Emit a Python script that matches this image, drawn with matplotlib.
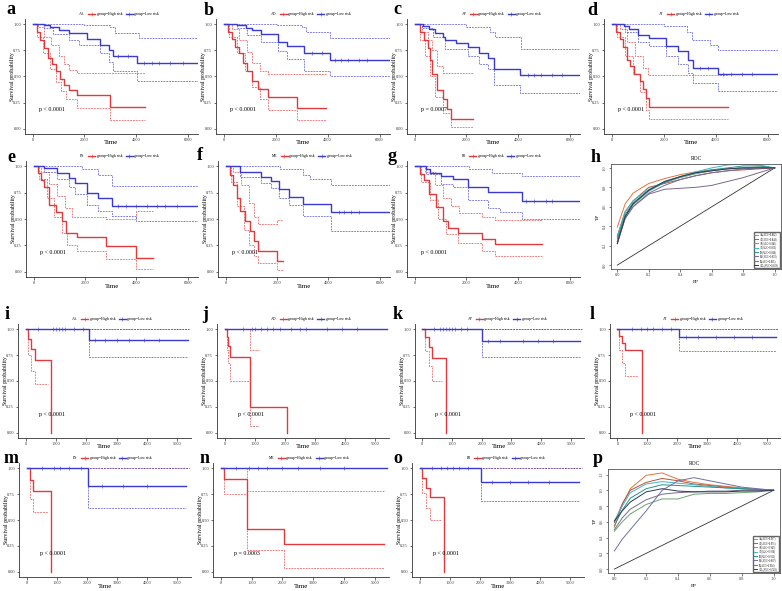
import numpy as np
import matplotlib
matplotlib.use("Agg")
import matplotlib.pyplot as plt
from matplotlib.lines import Line2D

plt.rcParams["font.family"] = ["Liberation Serif", "DejaVu Serif"]

W, H = 782, 591
RED = "#e03a3c"
BLUE = "#3a3ad0"

# ── Kaplan-Meier curves: (time, survival) break points ──
# rows 1-2 (training cohort)
A_HI = [(0, 1), (150, .93), (300, .85), (450, .77), (600, .68), (750, .62), (900, .55),
        (1050, .48), (1200, .42), (1400, .37), (1700, .32), (3000, .21), (4350, .21)]
A_HI_UP = [(0, 1), (200, .97), (450, .88), (700, .80), (1000, .70), (1200, .62),
           (1400, .56), (1700, .53), (4350, .53)]
A_HI_LO = [(0, 1), (150, .88), (400, .72), (650, .57), (900, .45), (1100, .36),
           (1300, .28), (1700, .20), (3000, .08), (4350, .08)]
A_LO = [(0, 1), (450, .99), (650, .97), (1000, .94), (1400, .92), (2100, .86), (2600, .80),
        (2950, .75), (3100, .70), (4050, .63), (6400, .63)]
A_LO_UP = [(0, 1), (2000, .99), (3000, .97), (3200, .92), (4100, .87), (6400, .87)]
A_LO_LO = [(0, 1), (450, .96), (800, .91), (1400, .85), (1800, .80), (2600, .72),
           (2950, .64), (3100, .55), (4050, .46), (6400, .46)]
A_CENS = [3300, 3700, 4300, 4600, 4900, 5300, 5800]

B_HI = [(0, 1), (150, .93), (300, .86), (450, .78), (600, .72), (750, .63), (900, .55),
        (1100, .46), (1300, .38), (1700, .30), (2820, .20), (3950, .20)]
B_HI_UP = [(0, 1), (300, .95), (600, .85), (900, .73), (1100, .63), (1400, .55),
           (1700, .52), (3950, .52)]
B_HI_LO = [(0, 1), (200, .88), (500, .72), (800, .55), (1100, .40), (1400, .28),
           (1700, .18), (2820, .08), (3950, .08)]
B_LO = [(0, 1), (500, .99), (870, .96), (1100, .94), (1450, .91), (2090, .83), (2450, .79),
        (3100, .72), (4080, .66), (6400, .66)]
B_LO_UP = [(0, 1), (2050, .99), (3000, .97), (3150, .93), (4100, .87), (6400, .87)]
B_LO_LO = [(0, 1), (500, .96), (900, .90), (1450, .83), (2090, .74), (2450, .67),
           (3100, .55), (4080, .50), (6400, .50)]
B_CENS = [3400, 3800, 4300, 4500, 4800, 5200, 5500]

C_HI = [(0, 1), (200, .93), (350, .85), (500, .77), (600, .66), (650, .52), (850, .37),
        (1100, .28), (1250, .19), (1420, .09), (2260, .09)]
C_HI_UP = [(0, 1), (300, .93), (500, .85), (650, .75), (850, .60), (1100, .53), (2260, .53)]
C_HI_LO = [(0, 1), (200, .85), (400, .70), (600, .50), (800, .30), (1100, .15),
           (1420, .02), (2260, .02)]
C_LO = [(0, 1), (320, .98), (550, .95), (800, .92), (1100, .88), (1160, .85), (1600, .82),
        (2060, .78), (2500, .72), (2850, .68), (3050, .57), (4060, .51), (6400, .51)]
C_LO_UP = [(0, 1), (1000, 1), (2000, .97), (2900, .93), (3100, .88), (4100, .76), (6400, .76)]
C_LO_LO = [(0, 1), (300, .96), (700, .88), (1160, .76), (2060, .70), (2500, .62),
           (2850, .57), (3050, .42), (4060, .34), (6400, .34)]
C_CENS = [4400, 4600, 4900, 5300, 5700]

D_HI = [(0, 1), (150, .93), (300, .86), (450, .78), (600, .66), (700, .60), (850, .52),
        (1100, .46), (1200, .38), (1320, .29), (1440, .21), (4480, .21)]
D_HI_UP = [(0, 1), (300, .95), (600, .83), (900, .70), (1200, .58), (1400, .51), (4480, .51)]
D_HI_LO = [(0, 1), (200, .88), (500, .70), (800, .52), (1100, .35), (1300, .18),
           (1440, .09), (4480, .09)]
D_LO = [(0, 1), (480, .98), (650, .95), (1000, .90), (1440, .87), (2090, .79), (2540, .74),
        (2940, .66), (3120, .58), (4090, .52), (6400, .52)]
D_LO_UP = [(0, 1), (1000, 1), (2000, .98), (2900, .93), (3100, .85), (3800, .80),
           (4100, .75), (6400, .75)]
D_LO_LO = [(0, 1), (500, .93), (1000, .83), (1440, .79), (2090, .70), (2540, .62),
           (2940, .53), (3120, .44), (4090, .36), (6400, .36)]
D_CENS = [3400, 3700, 4300, 4600, 5000, 5400]

E_HI = [(0, 1), (150, .94), (300, .87), (420, .80), (610, .63), (850, .57), (1110, .48),
        (1250, .37), (1680, .33), (2820, .24), (3990, .13), (4660, .13)]
E_HI_UP = [(0, 1), (300, .95), (600, .83), (900, .72), (1200, .60), (1500, .52),
           (2820, .50), (3990, .58), (4660, .58)]
E_HI_LO = [(0, 1), (200, .88), (500, .70), (800, .52), (1100, .37), (1300, .25),
           (1680, .20), (2820, .12), (3990, .03), (4660, .03)]
E_LO = [(0, 1), (420, .98), (900, .94), (1360, .89), (1620, .84), (2060, .75), (2500, .70),
        (3050, .62), (6400, .62)]
E_LO_UP = [(0, 1), (1200, 1), (1900, .97), (2500, .92), (3050, .81), (6400, .81)]
E_LO_LO = [(0, 1), (400, .95), (900, .88), (1360, .80), (1620, .74), (2060, .63),
           (2500, .58), (3050, .53), (4000, .48), (6400, .48)]
E_CENS = [3300, 3600, 4000, 4400, 4800, 5100, 5600]

F_HI = [(0, 1), (150, .92), (300, .82), (450, .70), (550, .58), (740, .48), (930, .39),
        (1100, .29), (1250, .20), (2000, .10), (2220, .10)]
F_HI_UP = [(0, 1), (300, .95), (600, .82), (900, .65), (1100, .52), (1250, .45),
           (2000, .49), (2220, .49)]
F_HI_LO = [(0, 1), (200, .85), (450, .62), (700, .40), (900, .25), (1100, .15),
           (1250, .08), (2000, .02), (2220, .02)]
F_LO = [(0, 1), (560, .95), (1380, .90), (1770, .86), (2090, .78), (2480, .71),
        (3000, .645), (4090, .57), (6400, .57)]
F_LO_UP = [(0, 1), (1300, 1), (2100, .97), (3000, .92), (3300, .88), (4100, .82), (6400, .82)]
F_LO_LO = [(0, 1), (560, .90), (1380, .84), (1770, .79), (2090, .70), (2480, .63),
           (3000, .53), (4090, .39), (6400, .39)]
F_CENS = [4400, 4600, 4900, 5200]

G_HI = [(0, 1), (200, .93), (370, .87), (550, .74), (820, .61), (1100, .48), (1280, .41),
        (1670, .37), (2590, .31), (3110, .26), (4940, .26)]
G_HI_UP = [(0, 1), (400, .95), (800, .82), (1100, .70), (1400, .62), (1700, .56),
           (2590, .52), (3110, .49), (4940, .49)]
G_HI_LO = [(0, 1), (250, .85), (600, .68), (900, .50), (1200, .36), (1670, .27),
           (2590, .20), (3110, .15), (4940, .15)]
G_LO = [(0, 1), (430, .97), (600, .94), (1000, .91), (1480, .88), (2060, .80),
        (2850, .755), (4150, .675), (6400, .675)]
G_LO_UP = [(0, 1), (1500, 1), (2100, .97), (3000, .94), (4150, .905), (6400, .905)]
G_LO_LO = [(0, 1), (430, .93), (1000, .83), (1480, .80), (2060, .68), (2850, .60),
           (3300, .57), (4150, .50), (6400, .50)]
G_CENS = [4300, 4600, 5100, 5300]

# rows 3-4 (validation cohort)
I_HI = [(0, 1), (90, .91), (190, .81), (320, .705), (840, 0)]
I_HI_LO = [(0, 1), (90, .75), (190, .60), (320, .47), (740, .47)]
I_LO = [(0, 1), (2100, .90), (5350, .90)]
I_LO_LO = [(0, 1), (2100, .735), (5350, .735)]
I_CENS = [400, 900, 1000, 1100, 1200, 1300, 1600, 1900, 2300, 2600, 3000, 3400, 3900, 4400]

J_HI = [(0, 1), (65, .92), (110, .84), (190, .73), (840, .25), (2075, 0)]
J_HI_UP = [(0, 1), (840, .80), (1140, .80)]
J_HI_LO = [(0, 1), (65, .80), (110, .67), (190, .50), (840, .07), (1140, .07)]
J_LO = [(0, 1), (5375, 1)]
J_CENS = [600, 900, 1000, 1200, 1400, 1600, 1850, 2200, 2500, 2700, 3400, 3900, 4400]

K_HI = [(0, 1), (85, .92), (210, .83), (340, .72), (810, 0)]
K_HI_LO = [(0, 1), (85, .79), (210, .64), (340, .50), (660, .50)]
K_LO = [(0, 1), (2020, .89), (5300, .89)]
K_LO_LO = [(0, 1), (2020, .735), (5300, .735)]
K_CENS = [400, 600, 700, 800, 900, 1000, 1100, 1300, 1500, 2200, 2600, 3400, 3900, 4400]

L_HI = [(0, 1), (60, .93), (150, .87), (250, .80), (830, 0)]
L_HI_LO = [(0, 1), (60, .80), (150, .67), (250, .55), (700, .55)]
L_LO = [(0, 1), (2050, .92), (5300, .92)]
L_LO_LO = [(0, 1), (2050, .79), (5300, .79)]
L_CENS = [500, 800, 1000, 1200, 1500, 1800, 2300, 2700, 3300, 3900, 4500]

M_HI = [(0, 1), (100, .89), (200, .78), (800, 0)]
M_HI_LO = [(0, 1), (100, .70), (200, .58), (700, .58)]
M_LO = [(0, 1), (2050, .83), (5300, .83)]
M_LO_LO = [(0, 1), (2050, .62), (5300, .62)]
M_CENS = [500, 900, 1100, 1400, 1800, 2500, 3200, 4000]

N_HI = [(0, 1), (100, .90), (840, .41), (2050, .27), (5300, .27)]
N_HI_UP = [(0, 1), (840, .78), (5300, .78)]
N_HI_LO = [(0, 1), (100, .75), (840, .21), (2050, .04), (5300, .04)]
N_LO = [(0, 1), (5375, 1)]
N_CENS = [500, 900, 1200, 1500, 2000, 2500, 3200, 4000]

O_HI = [(0, 1), (80, .91), (200, .81), (330, .72), (820, 0)]
O_HI_LO = [(0, 1), (80, .76), (200, .62), (330, .50), (700, .50)]
O_LO = [(0, 1), (2050, .87), (5300, .87)]
O_LO_LO = [(0, 1), (2050, .68), (5300, .68)]
O_CENS = [400, 700, 900, 1100, 1300, 1600, 2400, 3000, 3600, 4300]

FULL = [(0, 1), (5375, 1)]

# ── ROC curves: TP at shared FP grid ──
FP_GRID = [0, .05, .1, .2, .3, .4, .5, .6, .7, .8, .9, 1.0]
ROC_NAMES = ["AA", "AD", "AP", "AT", "ES", "ME", "RI", "ALL"]
ROC_COLORS = ["#e4743a", "#b5533c", "#6aa36f", "#3fb7c8", "#2f8f8f",
              "#6f6fa8", "#7a6a8a", "#2b3a55"]
H_AUC = ["0.862", "0.848", "0.841", "0.853", "0.846", "0.832", "0.801", "0.839"]
P_AUC = ["0.967", "0.951", "0.945", "0.930", "0.912", "0.887", "0.902", "0.921"]
H_TP = [
    [.39, .63, .74, .84, .89, .93, .96, .98, .99, 1.0, 1.0, 1.0],
    [.30, .55, .66, .80, .84, .88, .92, .95, .97, .98, .99, 1.0],
    [.24, .50, .62, .76, .85, .90, .94, .97, .99, 1.0, 1.01, 1.0],
    [.29, .55, .66, .78, .86, .91, .96, 1.0, 1.03, 1.04, 1.03, 1.0],
    [.27, .52, .64, .77, .85, .91, .95, .98, 1.0, 1.02, 1.02, 1.0],
    [.22, .48, .60, .74, .82, .88, .92, .95, .97, .99, 1.0, 1.0],
    [.24, .48, .60, .73, .78, .79, .80, .82, .86, .90, .95, 1.0],
    [.22, .50, .63, .77, .86, .91, .95, .97, .99, 1.0, 1.0, 1.0],
]
P_TP = [
    [.53, .82, 1.02, 1.19, 1.22, 1.14, 1.10, 1.07, 1.05, 1.03, 1.01, 1.0],
    [.59, .83, 1.0, 1.10, 1.15, 1.12, 1.08, 1.06, 1.04, 1.02, 1.01, 1.0],
    [.48, .60, .70, .82, .89, .89, .95, .96, .96, .97, .98, 1.0],
    [.61, .80, .97, 1.08, 1.11, 1.09, 1.07, 1.05, 1.03, 1.02, 1.01, 1.0],
    [.55, .75, .90, 1.02, 1.07, 1.06, 1.05, 1.04, 1.03, 1.02, 1.01, 1.0],
    [.23, .38, .50, .74, 1.0, 1.12, 1.16, 1.12, 1.08, 1.04, 1.02, 1.0],
    [.50, .65, .76, .88, .95, .97, .98, .99, .99, 1.0, 1.0, 1.0],
    [.61, .74, .85, .98, 1.02, .99, .98, .98, .98, .99, .99, 1.0],
]


def px_axes(fig, l, t, r, b):
    return fig.add_axes([l / W, 1 - b / H, (r - l) / W, (b - t) / H])


def step(ax, pts, color, lw, ls="-", alpha=1.0):
    t = [p[0] for p in pts]
    s = [p[1] for p in pts]
    ax.step(t, s, where="post", color=color, lw=lw, ls=ls, alpha=alpha)


def surv_at(pts, t):
    val = pts[0][1]
    for tt, ss in pts:
        if tt <= t:
            val = ss
    return val


def km_panel(fig, box, strata, pval, hi, lo, hi_up=None, hi_lo=None,
             lo_up=None, lo_lo=None, cens=(), long=True):
    ax = px_axes(fig, *box)
    l, t, r, b = box
    dash = (0, (2.2, 1.2))
    for pts, col in [(hi_up, RED), (hi_lo, RED), (lo_up, BLUE), (lo_lo, BLUE)]:
        if pts is not None:
            step(ax, pts, col, 0.6, ls=dash, alpha=0.75)
    step(ax, hi, RED, 1.0)
    step(ax, lo, BLUE, 1.0)
    ct = [c for c in cens if c <= lo[-1][0]]
    ax.plot(ct, [surv_at(lo, c) for c in ct], ls="none", marker="+",
            ms=2.2, mew=0.4, color=BLUE)

    ax.text(0.08 if long else 0.12, 0.21, pval, transform=ax.transAxes,
            fontsize=4.3, va="center")
    if long:
        ax.set_xlim(-300, 6400)
        ax.set_xticks([0, 2000, 4000, 6000])
    else:
        ax.set_xlim(-250, 5450)
        ax.set_xticks([0, 1000, 2000, 3000, 4000, 5000])
    ax.set_ylim(-0.05, 1.05)
    ax.set_yticks([0, .25, .5, .75, 1])
    ax.set_yticklabels(["0.00", "0.25", "0.50", "0.75", "1.00"])
    for sp in ["top", "right"]:
        ax.spines[sp].set_visible(False)
    for sp in ["left", "bottom"]:
        ax.spines[sp].set_linewidth(0.6)
        ax.spines[sp].set_color("#333333")
    ax.tick_params(labelsize=3.2, length=1.8, width=0.5, pad=1.0, colors="#333333")
    ax.set_xlabel("Time", fontsize=5)
    ax.set_ylabel("Survival probability", fontsize=4.3)
    # label positions in pixels -> axes fraction
    lab_x = max(l - 12.5, 4.5)
    ax.yaxis.set_label_coords((lab_x - l) / (r - l), 0.5)
    ax.yaxis.label.set_va("center")
    lab_y = min(b + 9, 586)
    ax.xaxis.set_label_coords(0.5, (b - lab_y) / (b - t))
    ax.xaxis.label.set_va("center")

    handles = [Line2D([], [], alpha=0),
               Line2D([], [], color=RED, lw=1, marker="+", ms=2.2, mew=0.4),
               Line2D([], [], color=BLUE, lw=1, marker="+", ms=2.2, mew=0.4)]
    ax.legend(handles, [strata, "group=High risk", "group=Low risk"], ncol=3,
              loc="lower center", bbox_to_anchor=(0.52, 1.0), frameon=False,
              fontsize=2.8, handlelength=1.8, handletextpad=0.4, columnspacing=0.9,
              borderaxespad=0.3)
    return ax


def roc_panel(fig, box, tps, aucs, ylim, yticks):
    ax = px_axes(fig, *box)
    ax.plot([0, 1], [0, 1], color="#333333", lw=0.6)
    for name, col, tp, auc in zip(ROC_NAMES, ROC_COLORS, tps, aucs):
        ax.plot(FP_GRID, tp, color=col, lw=0.7, label=f"{name}(AUC={auc})")
    ax.set_xlim(-0.04, 1.04)
    ax.set_ylim(*ylim)
    ax.set_xticks([0, .2, .4, .6, .8, 1.0])
    ax.set_yticks(yticks)
    ax.set_xticklabels([f"{v:.1f}" for v in [0, .2, .4, .6, .8, 1.0]])
    ax.set_yticklabels([f"{v:.1f}" for v in yticks], rotation=90, va="center")
    for sp in ax.spines.values():
        sp.set_linewidth(0.6)
        sp.set_color("#555555")
    ax.tick_params(labelsize=3.2, length=1.8, width=0.5, pad=1.2, colors="#444444")
    ax.set_xlabel("FP", fontsize=3.8, labelpad=2)
    ax.set_ylabel("TP", fontsize=3.8, labelpad=2)
    ax.set_title("ROC", fontsize=4, pad=3)
    ax.legend(loc="lower right", fontsize=1.8, handlelength=1.5, labelspacing=0.15,
              borderpad=0.3, fancybox=False, edgecolor="#666666", framealpha=1)
    return ax


fig = plt.figure(figsize=(W / 100, H / 100), dpi=100)

km_panel(fig, (25, 19, 198, 134), "AA", "p < 0.0001", A_HI, A_LO, A_HI_UP, A_HI_LO,
         A_LO_UP, A_LO_LO, A_CENS)
km_panel(fig, (216, 19, 390, 134), "AD", "p < 0.0001", B_HI, B_LO, B_HI_UP, B_HI_LO,
         B_LO_UP, B_LO_LO, B_CENS)
km_panel(fig, (407, 19, 580, 134), "AP", "p = 0.0007", C_HI, C_LO, C_HI_UP, C_HI_LO,
         C_LO_UP, C_LO_LO, C_CENS)
km_panel(fig, (604, 19, 778, 134), "AT", "p < 0.0001", D_HI, D_LO, D_HI_UP, D_HI_LO,
         D_LO_UP, D_LO_LO, D_CENS)
km_panel(fig, (26, 161, 198, 277), "ES", "p < 0.0001", E_HI, E_LO, E_HI_UP, E_HI_LO,
         E_LO_UP, E_LO_LO, E_CENS)
km_panel(fig, (218, 161, 390, 277), "ME", "p < 0.0001", F_HI, F_LO, F_HI_UP, F_HI_LO,
         F_LO_UP, F_LO_LO, F_CENS)
km_panel(fig, (407, 161, 580, 277), "RI", "p < 0.0001", G_HI, G_LO, G_HI_UP, G_HI_LO,
         G_LO_UP, G_LO_LO, G_CENS)
roc_panel(fig, (611, 164, 781, 269), H_TP, H_AUC, (-0.04, 1.04), [0, .2, .4, .6, .8, 1.0])

km_panel(fig, (18, 324, 191, 438), "AA", "p < 0.0001", I_HI, I_LO, FULL, I_HI_LO,
         FULL, I_LO_LO, I_CENS, long=False)
km_panel(fig, (217, 324, 389, 438), "AD", "p < 0.0001", J_HI, J_LO, J_HI_UP, J_HI_LO,
         cens=J_CENS, long=False)
km_panel(fig, (415, 324, 584, 438), "AP", "p < 0.0001", K_HI, K_LO, FULL, K_HI_LO,
         FULL, K_LO_LO, K_CENS, long=False)
km_panel(fig, (610, 324, 780, 438), "AT", "p < 0.0001", L_HI, L_LO, FULL, L_HI_LO,
         FULL, L_LO_LO, L_CENS, long=False)
km_panel(fig, (19, 463, 191, 577), "ES", "p < 0.0001", M_HI, M_LO, FULL, M_HI_LO,
         FULL, M_LO_LO, M_CENS, long=False)
km_panel(fig, (213, 463, 389, 577), "ME", "p = 0.0003", N_HI, N_LO, N_HI_UP, N_HI_LO,
         cens=N_CENS, long=False)
km_panel(fig, (412, 463, 584, 577), "RI", "p < 0.0001", O_HI, O_LO, FULL, O_HI_LO,
         FULL, O_LO_LO, O_CENS, long=False)
roc_panel(fig, (608, 469, 780, 573), P_TP, P_AUC, (-0.05, 1.27),
          [0, .2, .4, .6, .8, 1.0, 1.2])

# panel letters (x, baseline y in px)
letters = [("a", 6, 14), ("b", 204, 15), ("c", 393, 14), ("d", 587, 15),
           ("e", 7, 162), ("f", 197, 160), ("g", 388, 161), ("h", 591, 162),
           ("i", 5, 319), ("j", 202, 319), ("k", 393, 319), ("l", 590, 319),
           ("m", 4, 463), ("n", 200, 463), ("o", 393, 463), ("p", 593, 463)]
for lab, x, y in letters:
    fig.text(x / W, 1 - y / H, lab, fontsize=13, fontweight="bold",
             va="baseline", ha="left")

fig.savefig("out.png", dpi=100)
